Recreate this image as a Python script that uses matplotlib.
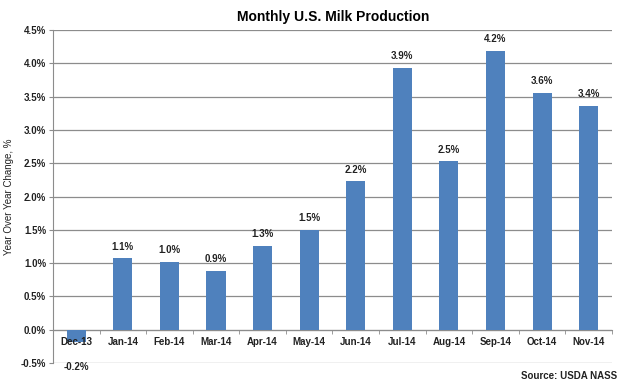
import matplotlib.pyplot as plt
import numpy as np

months = ["Dec-13", "Jan-14", "Feb-14", "Mar-14", "Apr-14", "May-14",
          "Jun-14", "Jul-14", "Aug-14", "Sep-14", "Oct-14", "Nov-14"]
yoy_change = [-0.18, 1.07, 1.02, 0.88, 1.26, 1.50,
              2.23, 3.93, 2.53, 4.19, 3.56, 3.36]
bar_labels = ["-0.2%", "1.1%", "1.0%", "0.9%", "1.3%", "1.5%",
              "2.2%", "3.9%", "2.5%", "4.2%", "3.6%", "3.4%"]

plt.rcParams['font.family'] = ['Liberation Sans', 'DejaVu Sans']

fig = plt.figure(figsize=(6.28, 3.88), dpi=100)
ax = fig.add_axes([0.0844, 0.0644, 0.890, 0.8583])

x = np.arange(len(months))
ax.bar(x, yoy_change, width=0.41, color="#4f81bd", zorder=3)

# data labels (negative one goes below the category labels)
for xi, v, lab in zip(x, yoy_change, bar_labels):
    if v >= 0:
        ax.text(xi, v + 0.1, lab, ha="center", va="bottom", fontsize=7, fontweight="bold", color="#222222")
    else:
        ax.text(xi, -0.555, lab, ha="center", va="center", fontsize=7, fontweight="bold",
                color="#222222", clip_on=False)

ax.set_xlim(-0.5, len(months) - 0.5)
ax.set_ylim(-0.5, 4.5)
yticks = np.arange(-0.5, 4.51, 0.5)
ax.set_yticks(yticks)
ax.set_yticklabels([f"{t:.1f}%" for t in yticks], fontsize=7, fontweight="bold", color="#222222")
ax.yaxis.grid(True, color="#8c8c8c", linewidth=0.9, zorder=0)
ax.tick_params(axis="y", length=3, color="#8c8c8c", pad=2)

# category axis sits on the zero line, its labels drawn over the bars
ax.spines["bottom"].set_position(("data", 0))
ax.spines["bottom"].set_color("#8c8c8c")
ax.spines["left"].set_color("#8c8c8c")
ax.spines["top"].set_visible(False)
ax.spines["right"].set_visible(False)
ax.set_xticks(x)
ax.set_xticklabels(months, fontsize=7, fontweight="bold", color="#222222")
ax.set_xticks(np.arange(-0.5, len(months), 1.0), minor=True)
ax.tick_params(axis="x", which="major", length=0, pad=5)
ax.tick_params(axis="x", which="minor", length=3, color="#8c8c8c")
ax.xaxis.set_zorder(4)

ax.set_ylabel("Year Over Year Change, %", fontsize=7, color="#222222", labelpad=5)
fig.text(0.53, 0.955, "Monthly U.S. Milk Production", ha="center", va="center", fontsize=10, fontweight="bold")
fig.text(0.983, 0.03, "Source: USDA NASS", ha="right", va="center", fontsize=7, fontweight="bold", color="#222222")

fig.savefig("out.png", dpi=100)
